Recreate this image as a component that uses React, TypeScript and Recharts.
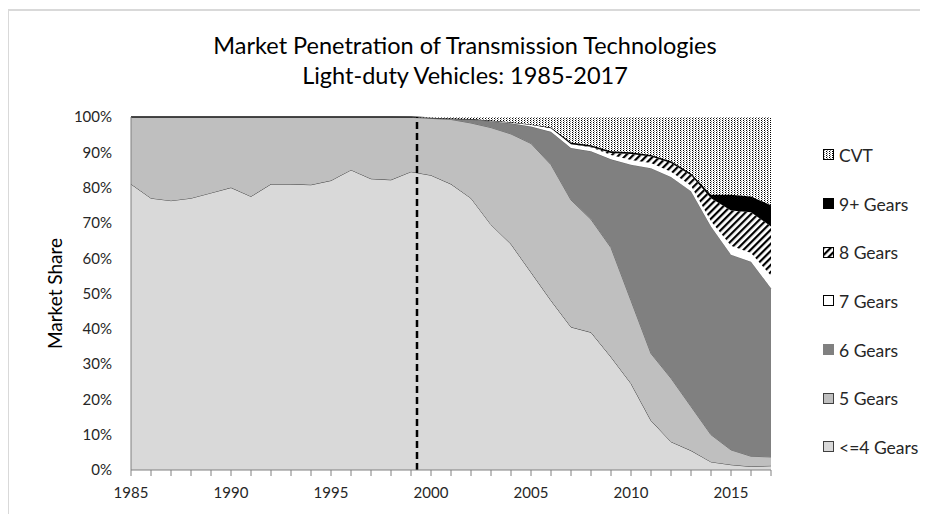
import React from 'react';
import { AreaChart, Area, XAxis, YAxis, Legend, ReferenceLine } from 'recharts';

// years on the x axis
const years = [
  1985, 1986, 1987, 1988, 1989, 1990, 1991, 1992, 1993, 1994, 1995, 1996, 1997, 1998, 1999,
  2000, 2001, 2002, 2003, 2004, 2005, 2006, 2007, 2008, 2009, 2010, 2011, 2012, 2013, 2014,
  2015, 2016, 2017,
];

// market share (%) by technology
const le4Gears = [
  81, 77, 76.3, 77, 78.5, 80, 77.5, 81, 81, 80.8, 82, 85, 82.5, 82.2, 84.5,
  83.5, 81, 77, 69.5, 64, 56, 48, 40.5, 39, 32, 24.5, 14, 8, 5.5, 2.3, 1.5, 1, 1.2,
];
const gears5 = [
  19, 23, 23.7, 23, 21.5, 20, 22.5, 19, 19, 19.2, 18, 15, 17.5, 17.8, 15.4,
  16.1, 18.3, 21.3, 27.5, 31.2, 36.5, 38.5, 36, 32, 31, 23.5, 19, 18, 12.5, 7.7, 4.2, 2.9, 2.5,
];
const gears6 = [
  0, 0, 0, 0, 0, 0, 0, 0, 0, 0, 0, 0, 0, 0, 0.1,
  0.2, 0.3, 1.0, 1.8, 3.0, 4.8, 9.3, 14.7, 19.3, 25, 38.5, 52.5, 57, 61, 59, 55.3, 55.1, 47.8,
];
const gears7 = [
  0, 0, 0, 0, 0, 0, 0, 0, 0, 0, 0, 0, 0, 0, 0,
  0, 0, 0.1, 0.2, 0.3, 0.6, 1.0, 1.1, 1.1, 1.2, 1.3, 1.5, 1.5, 1.5, 1.5, 2.5, 2.5, 3.5,
];
const gears8 = [
  0, 0, 0, 0, 0, 0, 0, 0, 0, 0, 0, 0, 0, 0, 0,
  0, 0, 0, 0, 0, 0, 0, 0, 0.2, 0.6, 1.7, 1.8, 2.5, 3, 6.5, 10, 11.5, 14,
];
const gears9 = [
  0, 0, 0, 0, 0, 0, 0, 0, 0, 0, 0, 0, 0, 0, 0,
  0, 0, 0, 0, 0, 0, 0.2, 0.5, 0.4, 0.5, 0.5, 0.4, 0.5, 0.5, 1, 4.5, 4.5, 6,
];
const cvt = [
  0, 0, 0, 0, 0, 0, 0, 0, 0, 0, 0, 0, 0, 0, 0,
  0.2, 0.4, 0.6, 1.0, 1.5, 2.1, 3.0, 7.2, 8, 9.7, 10, 10.8, 12.5, 16, 22, 22, 22.5, 25,
];

const yTicks = [0, 0.1, 0.2, 0.3, 0.4, 0.5, 0.6, 0.7, 0.8, 0.9, 1];

const data = years.map((year, i) => ({
  year,
  le4: le4Gears[i],
  g5: gears5[i],
  g6: gears6[i],
  g7: gears7[i],
  g8: gears8[i],
  g9: gears9[i],
  cvt: cvt[i],
}));

// bottom to top of the stack
const series = [
  { key: 'le4', name: '<=4 Gears', fill: '#d9d9d9', stroke: '#404040', box: '#404040' },
  { key: 'g5', name: '5 Gears', fill: '#bfbfbf', stroke: '#6e6e6e', box: '#404040' },
  { key: 'g6', name: '6 Gears', fill: '#808080', stroke: '#666666', box: '#808080' },
  { key: 'g7', name: '7 Gears', fill: '#ffffff', stroke: 'none', box: '#000000' },
  { key: 'g8', name: '8 Gears', fill: 'url(#hatch8)', stroke: 'none', box: '#000000' },
  { key: 'g9', name: '9+ Gears', fill: '#000000', stroke: '#000000', box: '#000000' },
  { key: 'cvt', name: 'CVT', fill: 'url(#cvtDots)', stroke: 'none', box: '#000000' },
];

const W = 920;
const H = 506;
const FONT = 'Lato, "Open Sans", sans-serif';

function LegendBox() {
  return (
    <div style={{ fontFamily: FONT }}>
      {[...series].reverse().map((s) => (
        <div key={s.key} style={{ display: 'flex', alignItems: 'center', height: 48.7 }}>
          <svg width={12} height={12} style={{ marginRight: 4 }}>
            <rect x={0.5} y={0.5} width={10} height={10} fill={s.fill} stroke={s.box} strokeWidth={1} />
          </svg>
          <span style={{ fontSize: 17.5, color: '#262626' }}>{s.name}</span>
        </div>
      ))}
    </div>
  );
}

export default function App() {
  return (
    <div style={{ position: 'relative', width: W, height: H, overflow: 'hidden', fontFamily: FONT }}>
      <div
        style={{
          position: 'absolute',
          left: -1,
          top: 1,
          width: W + 10,
          height: H + 10,
          borderTop: '2px solid #d9d9d9',
          borderLeft: '2px solid #d9d9d9',
          boxSizing: 'border-box',
        }}
      />
      <div
        style={{
          position: 'absolute',
          left: 0,
          top: 22,
          width: 914,
          textAlign: 'center',
          fontSize: 23.5,
          lineHeight: '30px',
          color: '#000',
        }}
      >
        <div>Market Penetration of Transmission Technologies</div>
        <div>Light-duty Vehicles: 1985-2017</div>
      </div>
      <div style={{ position: 'absolute', left: 0, top: 0 }}>
        <AreaChart
          width={W}
          height={H}
          data={data}
          stackOffset="expand"
          margin={{ top: 109, right: 157, bottom: 14, left: 0 }}
        >
          <defs>
            <pattern id="cvtDots" width={3} height={2} patternUnits="userSpaceOnUse">
              <rect width={3} height={2} fill="#ffffff" />
              <rect width={1} height={1} fill="#000000" />
              <rect x={1} y={1} width={1} height={1} fill="#8c8c8c" />
            </pattern>
            <pattern id="hatch8" width={5} height={5} patternUnits="userSpaceOnUse" patternTransform="rotate(45)">
              <rect width={5} height={5} fill="#ffffff" />
              <rect width={2.2} height={5} fill="#000000" />
            </pattern>
          </defs>
          <XAxis
            dataKey="year"
            type="number"
            domain={[1985, 2017]}
            ticks={years}
            interval={0}
            tickFormatter={(y: number) => (y % 5 === 0 ? String(y) : '')}
            height={30}
            tickSize={6}
            tickMargin={11}
            stroke="#808080"
            tick={{ fill: '#262626', fontSize: 15 }}
          />
          <YAxis
            width={123}
            domain={[0, 1]}
            ticks={yTicks}
            tickFormatter={(v: number) => `${Math.round(v * 100)}%`}
            tickLine={false}
            tickSize={10}
            tickMargin={9}
            stroke="#808080"
            tick={{ fill: '#262626', fontSize: 15 }}
            label={{
              value: 'Market Share',
              angle: -90,
              position: 'insideLeft',
              offset: 47,
              style: { textAnchor: 'middle', fontSize: 19, fill: '#000' },
            }}
          />
          {series.map((s) => (
            <Area
              key={s.key}
              type="linear"
              dataKey={s.key}
              name={s.name}
              stackId="share"
              fill={s.fill}
              fillOpacity={1}
              stroke={s.stroke}
              strokeWidth={1}
              isAnimationActive={false}
            />
          ))}
          <ReferenceLine x={1999.3} stroke="#000000" strokeWidth={2.5} strokeDasharray="7 4" />
          <Legend
            layout="vertical"
            align="center"
            verticalAlign="middle"
            content={() => <LegendBox />}
            wrapperStyle={{ left: 815, top: 123, width: 110 }}
          />
        </AreaChart>
      </div>
    </div>
  );
}
